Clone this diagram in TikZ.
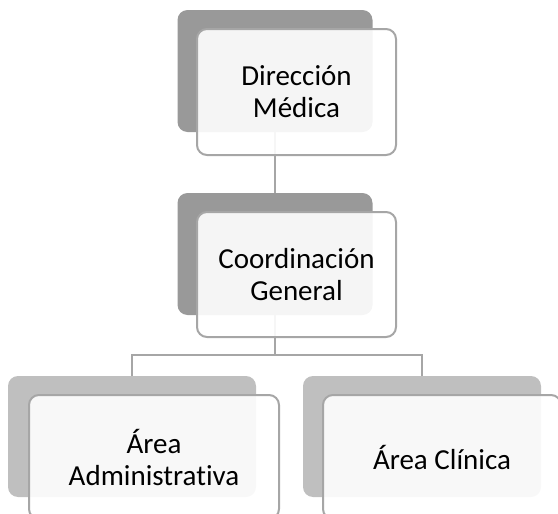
\documentclass[tikz,border=0pt]{standalone}
\usepackage{fontspec}
\setmainfont{Carlito}[Ligatures={NoCommon}]
\definecolor{darktop}{HTML}{999999}
\definecolor{darkbot}{HTML}{BFBFBF}
\definecolor{edgegray}{HTML}{A6A6A6}
\tikzset{
  backbox/.style={rounded corners=10pt, inner sep=0pt, draw=none},
  frontbox/.style={rounded corners=10pt, inner sep=0pt, draw=edgegray, line width=2pt,
    fill=white, fill opacity=0.9, text opacity=1, align=center,
    font=\fontsize{29}{32}\selectfont},
  conn/.style={draw=edgegray, line width=2pt}
}
\begin{document}
\begin{tikzpicture}[x=1pt,y=-1pt]
\useasboundingbox (0,0) rectangle (558,514);
\clip (0,0) rectangle (558,514);
% back boxes
\node[backbox, fill=darktop, minimum width=195pt, minimum height=122pt] (d1) at (275,71) {};
\node[backbox, fill=darktop, minimum width=195pt, minimum height=122pt] (d2) at (275,254) {};
\node[backbox, fill=darkbot, minimum width=248pt, minimum height=121pt] (d3) at (132,436.5) {};
\node[backbox, fill=darkbot, minimum width=238pt, minimum height=121pt] (d4) at (422,436.5) {};
% connectors
\coordinate (j) at (275,355);
\draw[conn] (d1.south) -- (d2.north);
\draw[conn] (d2.south) -- (d2.south |- j) -| (d3.north);
\draw[conn] (d2.south |- j) -| (d4.north);
% front boxes
\node[frontbox, minimum width=199pt, minimum height=126pt] (f1) at (296.5,92) {Dirección\\Médica};
\node[frontbox, minimum width=199pt, minimum height=125pt] (f2) at (296.5,274.5) {Coordinación\\General};
\node[frontbox, minimum width=250pt, minimum height=124pt] (f3) at (154,457) {Área\\Administrativa};
\node[frontbox, minimum width=238pt, minimum height=124pt] (f4) at (442,457) {Área Clínica};
\end{tikzpicture}
\end{document}
